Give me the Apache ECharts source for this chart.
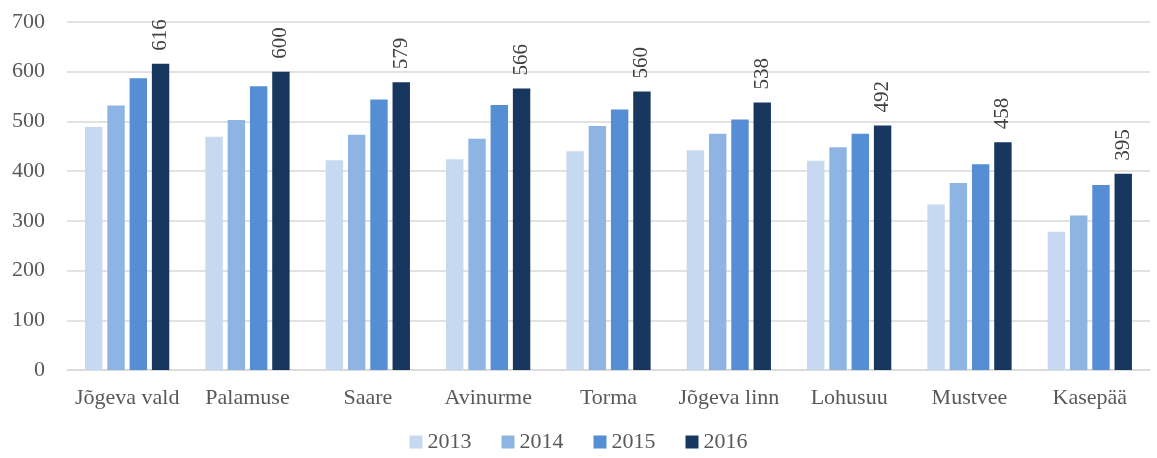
<!DOCTYPE html>
<html lang="et">
<head>
    <meta charset="UTF-8">
    <title>Omavalitsused</title>
    <script src="https://cdn.jsdelivr.net/npm/echarts@6/dist/echarts.min.js"></script>
</head>
<body style="margin:0">
<div id="chart" style="width:1157px;height:458px;"></div>
<script type="text/javascript">
    var categories = ['Jõgeva vald', 'Palamuse', 'Saare', 'Avinurme', 'Torma', 'Jõgeva linn', 'Lohusuu', 'Mustvee', 'Kasepää'];
    var years = ['2013', '2014', '2015', '2016'];
    var v2013 = [489, 469, 422, 424, 440, 442, 421, 333, 278];
    var v2014 = [532, 503, 473, 465, 491, 475, 448, 376, 311];
    var v2015 = [587, 571, 544, 533, 524, 504, 475, 414, 372];
    var v2016 = [616, 600, 579, 566, 560, 538, 492, 458, 395];
    var colors = ['#c6d9f1', '#8eb4e3', '#558ed5', '#17375e'];

    var font = '"Liberation Serif", "DejaVu Serif", serif';
    var myChart = echarts.init(document.getElementById('chart'));

    var values = [v2013, v2014, v2015, v2016];
    var series = [];
    for (var i = 0; i < years.length; i++) {
        var s = {
            name: years[i],
            type: 'bar',
            data: values[i],
            barGap: '28%',
            barCategoryGap: '30%'
        };
        // vaid 2016 tulpadel on väärtused
        if (i === 3) {
            s.label = {
                show: true,
                position: 'top',
                rotate: 90,
                align: 'left',
                verticalAlign: 'middle',
                distance: 13,
                color: '#404040',
                fontFamily: font,
                fontSize: 21
            };
        }
        series.push(s);
    }

    var option = {
        color: colors,
        animation: false,
        textStyle: { fontFamily: font },
        legend: {
            bottom: 0,
            left: 'center',
            itemWidth: 13,
            itemHeight: 13,
            itemGap: 30,
            icon: 'rect',
            textStyle: { color: '#595959', fontSize: 22, fontFamily: font }
        },
        grid: {
            top: 22,
            left: 67,
            right: 7,
            bottom: 88
        },
        xAxis: {
            type: 'category',
            data: categories,
            axisTick: { show: false },
            axisLine: { lineStyle: { color: '#d9d9d9', width: 1.5 } },
            axisLabel: { color: '#595959', fontSize: 22, margin: 17, interval: 0, fontFamily: font }
        },
        yAxis: {
            type: 'value',
            min: 0,
            max: 700,
            interval: 100,
            axisLine: { show: false },
            axisTick: { show: false },
            splitLine: { lineStyle: { color: '#d9d9d9', width: 1.5 } },
            axisLabel: { color: '#595959', fontSize: 22, margin: 22, fontFamily: font }
        },
        series: series
    };
    myChart.setOption(option, true);
</script>
</body>
</html>
